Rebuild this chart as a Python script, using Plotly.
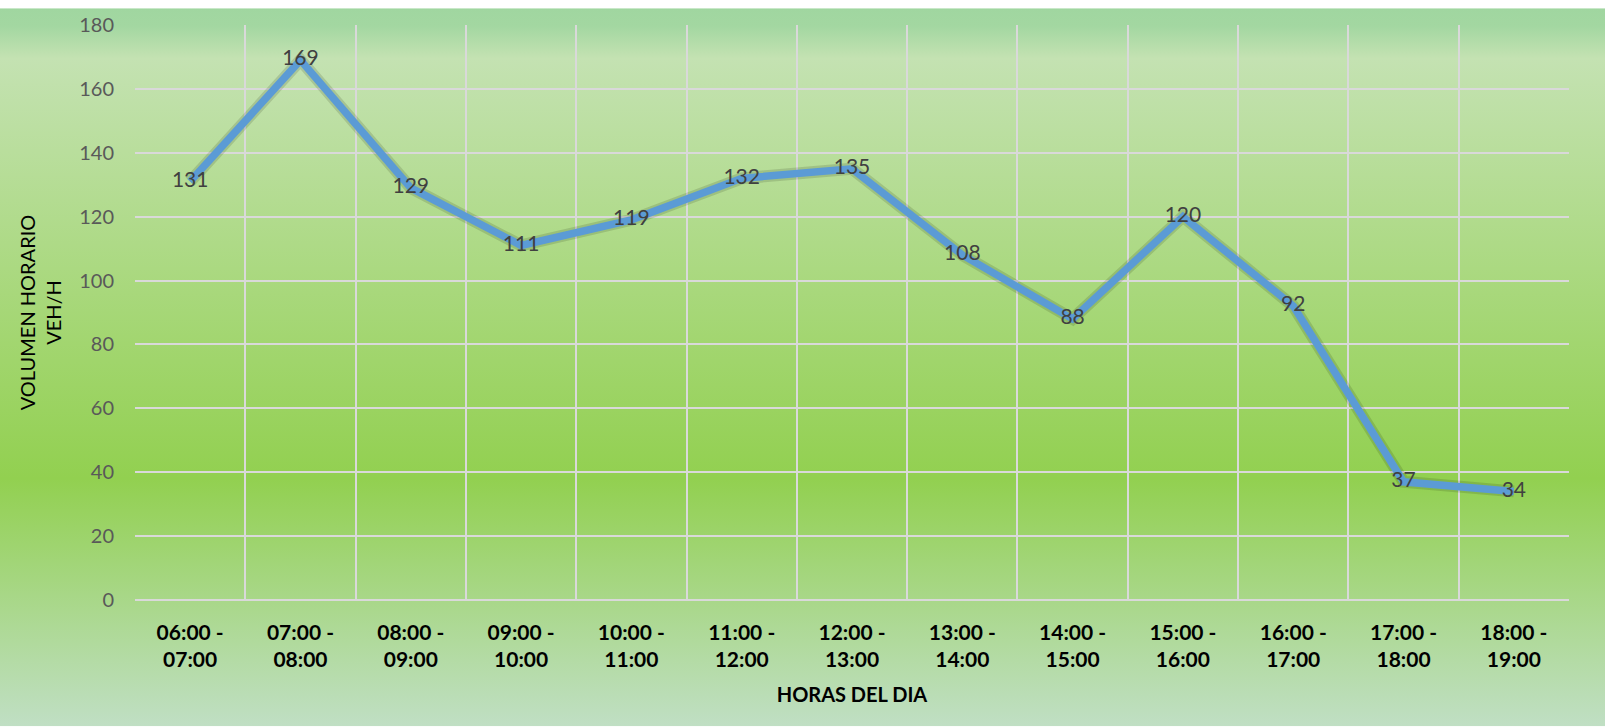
import base64
import plotly.graph_objects as go

# ---- data ----
horas = ["06:00 -<br>07:00", "07:00 -<br>08:00", "08:00 -<br>09:00", "09:00 -<br>10:00",
         "10:00 -<br>11:00", "11:00 -<br>12:00", "12:00 -<br>13:00", "13:00 -<br>14:00",
         "14:00 -<br>15:00", "15:00 -<br>16:00", "16:00 -<br>17:00", "17:00 -<br>18:00",
         "18:00 -<br>19:00"]
volumen = [131, 169, 129, 111, 119, 132, 135, 108, 88, 120, 92, 37, 34]
y_ticks = [0, 20, 40, 60, 80, 100, 120, 140, 160, 180]

W, H = 1605, 728
ML, MR, MT, MB = 135, 36, 17, 128
PW, PH = W - ML - MR, H - MT - MB

svg = f'''<svg xmlns="http://www.w3.org/2000/svg" width="{W}" height="{H}" preserveAspectRatio="none">
<defs><linearGradient id="g" x1="0" y1="0" x2="0" y2="1">
<stop offset="0" stop-color="#a0d6a0"/>
<stop offset="0.025" stop-color="#a3d7a1"/>
<stop offset="0.07" stop-color="#c4e2b2"/>
<stop offset="0.655" stop-color="#92d050"/>
<stop offset="1" stop-color="#c0dfc4"/>
</linearGradient></defs>
<rect x="0" y="0" width="{W}" height="{H}" fill="url(#g)"/></svg>'''
bg_src = "data:image/svg+xml;base64," + base64.b64encode(svg.encode()).decode()

FONT = "Lato, Carlito, sans-serif"

fig = go.Figure()
# soft shadow under the line
fig.add_trace(go.Scatter(x=horas, y=volumen, mode="lines",
                         line=dict(color="rgba(20,30,15,0.14)", width=12),
                         hoverinfo="skip", showlegend=False))
fig.add_trace(go.Scatter(x=horas, y=volumen, mode="lines+text",
                         line=dict(color="#5b9bd5", width=7.5),
                         text=[str(v) for v in volumen], textposition="middle center",
                         textfont=dict(family=FONT, size=21, color="#404040"),
                         showlegend=False))

fig.update_layout(
    width=W, height=H,
    margin=dict(l=ML, r=MR, t=MT, b=MB),
    paper_bgcolor="rgba(0,0,0,0)", plot_bgcolor="rgba(0,0,0,0)",
    font=dict(family=FONT),
    images=[dict(source=bg_src, xref="paper", yref="paper",
                 x=-ML / PW, y=1 + MT / PH, sizex=W / PW, sizey=H / PH,
                 xanchor="left", yanchor="top", sizing="stretch", layer="below")],
    xaxis=dict(type="category", tickson="boundaries", showgrid=True,
               gridcolor="#d9d9d9", gridwidth=2, showline=False,
               ticks="", ticklabelstandoff=18,
               tickfont=dict(size=21, color="#000000", family=FONT, weight="bold"),
               title=dict(text="<b>HORAS DEL DIA</b>", standoff=17,
                          font=dict(size=20, color="#000000")),
               range=[-0.5, 12.5]),
    yaxis=dict(range=[0, 180], tickvals=y_ticks, showgrid=True, gridcolor="#d9d9d9",
               gridwidth=2, zeroline=True, zerolinecolor="#d9d9d9", zerolinewidth=2,
               ticks="", ticklabelstandoff=20,
               tickfont=dict(size=20, color="#595959"),
               title=dict(text="VOLUMEN HORARIO<br>VEH/H", standoff=12,
                          font=dict(size=20, color="#000000"))),
)

fig.write_html("out.html", config={"displayModeBar": False},
               post_script=("document.documentElement.style.margin='0';"
                            "document.body.style.margin='0';"))
